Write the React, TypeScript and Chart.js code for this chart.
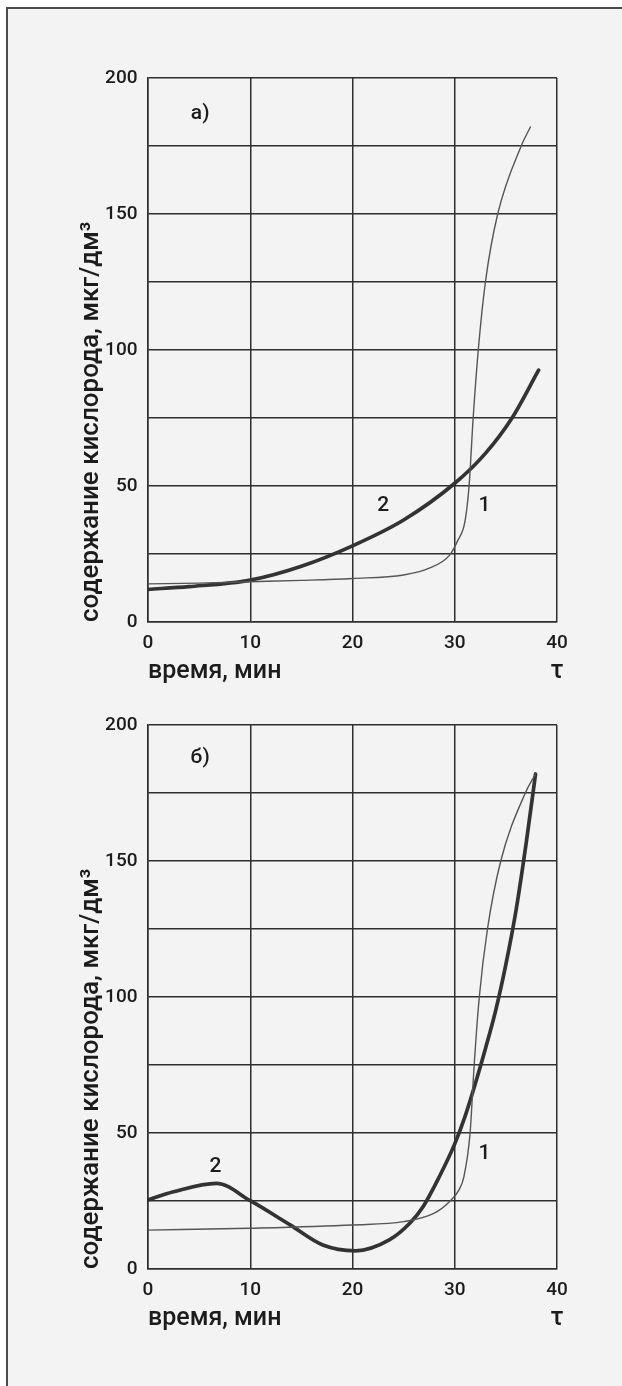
import React, { useEffect, useRef } from 'react';
import { Chart, registerables } from 'chart.js';

Chart.register(...registerables);

// ---- Data ----
const X_MIN = 0;
const X_MAX = 40;
const X_STEP = 10;
const Y_MIN = 0;
const Y_MAX = 200;
const Y_GRID_STEP = 25;
const Y_LABEL_STEP = 50;

const X_TITLE = 'время, мин';
const Y_TITLE = 'содержание кислорода, мкг/дм³';
const TAU = 'τ';

// Panel а) curve 1 (thin)
const A1_T = [0, 5, 10, 15, 20, 25, 27.5, 29.5, 30.3, 31.0, 31.4, 31.8, 32.3, 33.0, 34.2, 36.5, 37.4];
const A1_V = [14, 14.3, 14.8, 15.3, 16, 17.3, 19.8, 24.6, 30, 37, 50, 75, 100, 125, 150, 175, 182];
// Panel а) curve 2 (thick)
const A2_T = [0, 4, 10, 15, 20, 25, 30, 33, 35.6, 38.2];
const A2_V = [12, 13, 15.4, 20.5, 28, 37.5, 51, 62, 75, 92.6];

// Panel б) curve 1 (thin)
const B1_T = [0, 10, 20, 25, 28, 29.5, 30.4, 30.9, 31.5, 31.9, 32.4, 33.2, 34.5, 36.9, 37.9];
const B1_V = [14.3, 15, 16.2, 17.4, 20.5, 24.8, 29, 34, 50, 75, 100, 125, 150, 175, 182];
// Panel б) curve 2 (thick)
const B2_T = [0, 2.5, 6.7, 10, 13.9, 17.1, 20.3, 23.6, 25.6, 26.9, 28.5, 30, 31, 32, 33, 34, 35, 36, 37, 37.9];
const B2_V = [25.4, 28.4, 31.5, 25.1, 16.2, 8.8, 6.7, 10.7, 16.8, 22.9, 34, 46, 56, 68, 81, 95, 112, 132, 157, 182];

// Annotation texts (value coordinates)
const A_NOTES = [
  { text: 'а)', t: 5.1, v: 187 },
  { text: '2', t: 23.0, v: 42.8 },
  { text: '1', t: 32.9, v: 42.6 },
];
const B_NOTES = [
  { text: 'б)', t: 5.1, v: 188 },
  { text: '2', t: 6.6, v: 37.5 },
  { text: '1', t: 32.9, v: 42.3 },
];

// ---- Styles ----
const FONT = "Roboto, 'Liberation Sans', Arial, sans-serif";
const WEIGHT = '500';
const INK = '#1c1c1c';
const GRID = '#2e2e2e';
const BG = '#f3f3f3';
const TICK_SIZE = 19;
const X_TITLE_SIZE = 25;
const Y_TITLE_SIZE = 26;
const NOTE_SIZE = 21;
const CANVAS_W = 622;
const CANVAS_H = 700;
const X_TITLE_PAD = 13;
const Y_TITLE_PAD = 75.4;

const toPoints = (ts: number[], vs: number[]) => ts.map((t, i) => ({ x: t, y: vs[i] }));

const notesPlugin = {
  id: 'notes',
  afterDraw(chart: any, _args: any, opts: any) {
    const { ctx, scales } = chart;
    const xs = scales.x;
    const ys = scales.y;
    ctx.save();
    ctx.fillStyle = INK;
    ctx.textAlign = 'center';
    ctx.textBaseline = 'middle';
    ctx.font = `${WEIGHT} ${NOTE_SIZE}px ${FONT}`;
    for (const n of opts.items || []) {
      ctx.fillText(n.text, xs.getPixelForValue(n.t), ys.getPixelForValue(n.v));
    }
    const lh = X_TITLE_SIZE * 1.2;
    ctx.font = `${WEIGHT} ${X_TITLE_SIZE}px ${FONT}`;
    ctx.fillText(TAU, xs.getPixelForValue(X_MAX), xs.bottom - (lh / 2 + X_TITLE_PAD));
    ctx.restore();
  },
};

function Panel(props: { top: number; t1: number[]; v1: number[]; t2: number[]; v2: number[]; notes: any[] }) {
  const ref = useRef<HTMLCanvasElement | null>(null);
  useEffect(() => {
    if (!ref.current) return;
    const tickFont = { family: FONT, size: TICK_SIZE, weight: WEIGHT };
    const chart = new Chart(ref.current, {
      type: 'scatter',
      data: {
        datasets: [
          {
            label: '1',
            data: toPoints(props.t1, props.v1),
            showLine: true,
            borderColor: '#555555',
            borderWidth: 1.4,
            pointRadius: 0,
            cubicInterpolationMode: 'monotone',
            borderCapStyle: 'round',
            fill: false,
          } as any,
          {
            label: '2',
            data: toPoints(props.t2, props.v2),
            showLine: true,
            borderColor: '#333333',
            borderWidth: 3.7,
            pointRadius: 0,
            cubicInterpolationMode: 'monotone',
            borderCapStyle: 'round',
            borderJoinStyle: 'round',
            fill: false,
          } as any,
        ],
      },
      options: {
        responsive: false,
        animation: false,
        devicePixelRatio: 1,
        layout: { padding: { left: 0, top: 78, right: 65, bottom: 0 } },
        plugins: {
          legend: { display: false },
          tooltip: { enabled: false },
          notes: { items: props.notes },
        } as any,
        scales: {
          x: {
            type: 'linear',
            min: X_MIN,
            max: X_MAX,
            afterFit: (axis: any) => { axis.height = 78; },
            ticks: {
              stepSize: X_STEP,
              color: INK,
              padding: 10,
              font: tickFont,
              maxRotation: 0,
            },
            grid: { color: GRID, lineWidth: 1.5, drawTicks: false },
            border: { display: true, color: GRID, width: 1.5 },
            title: {
              display: true,
              text: X_TITLE,
              align: 'start',
              color: INK,
              font: { family: FONT, size: X_TITLE_SIZE, weight: WEIGHT },
              padding: { top: 0, bottom: X_TITLE_PAD },
            },
          },
          y: {
            type: 'linear',
            min: Y_MIN,
            max: Y_MAX,
            afterFit: (axis: any) => { axis.width = 148; },
            ticks: {
              stepSize: Y_GRID_STEP,
              color: INK,
              padding: 10.5,
              font: tickFont,
              callback: (val: any) => (Number(val) % Y_LABEL_STEP === 0 ? String(val) : ''),
            },
            grid: { color: GRID, lineWidth: 1.5, drawTicks: false },
            border: { display: true, color: GRID, width: 1.5 },
            title: {
              display: true,
              text: Y_TITLE,
              align: 'start',
              color: INK,
              font: { family: FONT, size: Y_TITLE_SIZE, weight: WEIGHT },
              padding: { top: Y_TITLE_PAD, bottom: 0 },
            },
          },
        },
      } as any,
      plugins: [notesPlugin],
    });
    return () => chart.destroy();
  }, []);
  return (
    <canvas
      ref={ref}
      width={CANVAS_W}
      height={CANVAS_H}
      style={{ position: 'absolute', left: 0, top: props.top, width: CANVAS_W, height: CANVAS_H }}
    />
  );
}

export default function App() {
  useEffect(() => {
    document.body.style.margin = '0';
    document.body.style.background = '#ffffff';
  }, []);
  return (
    <div style={{ position: 'relative', width: 622, height: 1386, overflow: 'hidden', background: '#ffffff' }}>
      <div
        style={{
          position: 'absolute',
          left: 6,
          top: 7,
          width: 640,
          height: 1400,
          borderTop: '2px solid #4a4a4a',
          borderLeft: '2px solid #4a4a4a',
          background: BG,
        }}
      />
      <Panel top={0} t1={A1_T} v1={A1_V} t2={A2_T} v2={A2_V} notes={A_NOTES} />
      <Panel top={647} t1={B1_T} v1={B1_V} t2={B2_T} v2={B2_V} notes={B_NOTES} />
    </div>
  );
}
